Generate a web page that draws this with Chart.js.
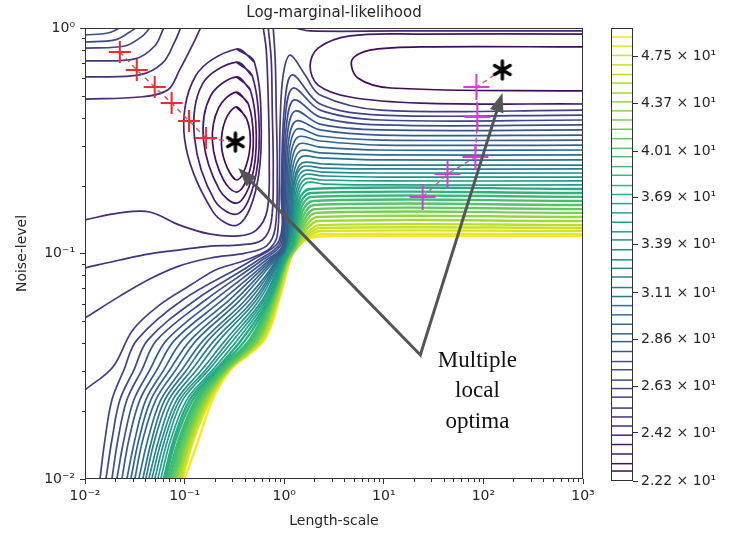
<!DOCTYPE html>
<html>
<head>
<meta charset="utf-8">
<script src="https://cdn.jsdelivr.net/npm/chart.js@4.4.0/dist/chart.umd.min.js"></script>
<style>
  html, body { margin: 0; padding: 0; background: #fff; }
  #wrap { position: relative; width: 732px; height: 542px; }
  #main { position: absolute; left: 0; top: 0; }
  #bar { position: absolute; left: 600px; top: 0; }
</style>
</head>
<body>
<div id="wrap">
  <canvas id="main" width="600" height="542"></canvas>
  <canvas id="bar" width="132" height="542"></canvas>
</div>
<script>
// contour levels of -LML (colour bar)
const levels = [22.2, 22.6, 22.9, 23.3, 23.7, 24.1, 24.5, 24.9, 25.3, 25.8, 26.2, 26.6, 27.1, 27.5, 28.0,
  28.5, 28.9, 29.4, 29.9, 30.4, 30.9, 31.4, 32.0, 32.5, 33.0, 33.6, 34.2, 34.7, 35.3, 35.9, 36.5, 37.1,
  37.7, 38.4, 39.0, 39.7, 40.3, 41.0, 41.7, 42.4, 43.1, 43.8, 44.5, 45.3, 46.0, 46.8, 47.6, 48.4, 49.2, 50.0];
const cbTicks = [22.2, 24.2, 26.3, 28.6, 31.1, 33.9, 36.9, 40.1, 43.7, 47.5];
const cbTickLabels = ['2.22 × 10¹', '2.42 × 10¹', '2.63 × 10¹', '2.86 × 10¹', '3.11 × 10¹',
  '3.39 × 10¹', '3.69 × 10¹', '4.01 × 10¹', '4.37 × 10¹', '4.75 × 10¹'];

const xTicks = [0.01, 0.1, 1, 10, 100, 1000];
const xTickLabels = ['10⁻²', '10⁻¹', '10⁰', '10¹', '10²', '10³'];
const yTicks = [0.01, 0.1, 1];
const yTickLabels = ['10⁻²', '10⁻¹', '10⁰'];

// contour lines, points are [log10 length-scale, log10 noise-level]
// closed rings round the left optimum
const ringLevels = [1, 2, 3, 4, 5];
const rings = [
  [[-0.48,-0.35],[-0.38,-0.40],[-0.34,-0.497],[-0.38,-0.608],[-0.47,-0.674],[-0.57,-0.621],[-0.63,-0.519],[-0.59,-0.408]],
  [[-0.48,-0.284],[-0.36,-0.337],[-0.31,-0.488],[-0.35,-0.639],[-0.47,-0.727],[-0.61,-0.674],[-0.72,-0.506],[-0.66,-0.355]],
  [[-0.48,-0.217],[-0.34,-0.275],[-0.28,-0.479],[-0.33,-0.674],[-0.47,-0.776],[-0.65,-0.718],[-0.81,-0.497],[-0.74,-0.302]],
  [[-0.48,-0.151],[-0.32,-0.213],[-0.25,-0.47],[-0.31,-0.701],[-0.47,-0.825],[-0.70,-0.763],[-0.90,-0.488],[-0.82,-0.248]],
  [[-0.48,-0.093],[-0.30,-0.151],[-0.23,-0.466],[-0.29,-0.727],[-0.47,-0.874],[-0.72,-0.812],[-1.00,-0.492],[-0.89,-0.213]]
];

// open lines: from the top edge down the wall and back to the left edge, plus the first line of the wall
const arcLevels = [6, 7, 8, 9];
const arcs = [
  [[-0.21,0],[-0.18,-0.098],[-0.16,-0.319],[-0.15,-0.585],[-0.17,-0.807],[-0.28,-0.896],[-0.46,-0.922],[-0.74,-0.914],
   [-1.05,-0.874],[-1.35,-0.816],[-1.65,-0.82],[-2,-0.851]],
  [[-0.16,0],[-0.13,-0.142],[-0.12,-0.364],[-0.11,-0.63],[-0.13,-0.86],[-0.22,-0.94],[-0.44,-0.962],[-0.74,-0.967],
   [-1.05,-0.984],[-1.35,-1.002],[-1.65,-1.029],[-2,-1.064]],
  [[-0.11,0],[-0.09,-0.142],[-0.08,-0.364],[-0.07,-0.63],[-0.09,-0.887],[-0.18,-0.967],[-0.39,-0.998],[-0.74,-1.02],
   [-1.05,-1.055],[-1.35,-1.113],[-1.65,-1.189],[-2,-1.286]],
  [[-2,-1.605],[-1.72,-1.503],[-1.52,-1.339],[-1.25,-1.228],[-0.94,-1.14],[-0.69,-1.073],[-0.44,-1.038],[-0.26,-1.007],
   [-0.14,-0.976],[-0.07,-0.922],[-0.05,-0.718],[-0.04,-0.408],[-0.01,-0.208],[0.06,-0.12],[0.21,-0.208],[0.36,-0.297],[0.97,-0.364],[3,-0.364]]
];

// lines from the left edge out through the top, and round the right optimum
const edgeLevels = [6, 7, 8, 10, 11, 12, 1, 3, 5];
const edgeLines = [
  [[-2,-0.315],[-1.45,-0.306],[-1.17,-0.275],[-1.05,-0.186],[-0.92,-0.075],[-0.84,0]],
  [[-2,-0.217],[-1.45,-0.208],[-1.22,-0.155],[-1.10,-0.062],[-1.04,0]],
  [[-2,-0.146],[-1.50,-0.137],[-1.30,-0.08],[-1.21,0]],
  [[-2,-0.089],[-1.60,-0.08],[-1.42,-0.035],[-1.35,0]],
  [[-2,-0.062],[-1.70,-0.053],[-1.55,-0.018],[-1.49,0]],
  [[-2,-0.031],[-1.77,-0.022],[-1.65,0]],
  [[3,-0.084],[1.37,-0.084],[0.86,-0.098],[0.68,-0.142],[0.74,-0.222],[1.07,-0.266],[3,-0.279]],
  [[3,-0.027],[1.37,-0.027],[0.66,-0.035],[0.34,-0.089],[0.26,-0.169],[0.34,-0.253],[0.66,-0.306],[1.37,-0.333],[3,-0.337]],
  [[0.11,0],[0.26,-0.013],[1.17,-0.013],[3,-0.013]]
];

// the steep wall: lower branch read at fixed noise levels, then the upper branch, then the flat level on the right
const cutLogN = [-2.0, -1.827, -1.65, -1.517, -1.384, -1.206, -1.029];
const wallLevels = [10, 11, 12, 13, 14, 15, 16, 17, 18, 19, 21, 22, 24, 25, 27, 28, 30, 31, 33, 34, 36, 37, 39, 41, 42, 44, 45, 46, 48, 49];
const wallLower = [
  [-1.85,-1.80,-1.73,-1.61,-1.48,-1.02,-0.32],
  [-1.79,-1.73,-1.65,-1.51,-1.37,-0.89,-0.26],
  [-1.73,-1.67,-1.58,-1.43,-1.28,-0.79,-0.22],
  [-1.68,-1.61,-1.51,-1.35,-1.18,-0.70,-0.18],
  [-1.63,-1.56,-1.45,-1.28,-1.10,-0.62,-0.15],
  [-1.58,-1.50,-1.39,-1.21,-1.02,-0.55,-0.13],
  [-1.54,-1.46,-1.34,-1.15,-0.94,-0.49,-0.11],
  [-1.50,-1.42,-1.29,-1.09,-0.88,-0.44,-0.09],
  [-1.46,-1.37,-1.24,-1.03,-0.81,-0.39,-0.08],
  [-1.42,-1.33,-1.20,-0.98,-0.76,-0.35,-0.07],
  [-1.39,-1.30,-1.16,-0.93,-0.70,-0.31,-0.06],
  [-1.36,-1.26,-1.12,-0.88,-0.65,-0.28,-0.05],
  [-1.33,-1.23,-1.08,-0.83,-0.59,-0.25,-0.04],
  [-1.30,-1.20,-1.05,-0.79,-0.55,-0.22,-0.03],
  [-1.27,-1.17,-1.02,-0.76,-0.51,-0.20,-0.02],
  [-1.24,-1.14,-0.98,-0.72,-0.47,-0.18,-0.01],
  [-1.21,-1.11,-0.95,-0.69,-0.43,-0.16,0.00],
  [-1.19,-1.09,-0.92,-0.67,-0.39,-0.15,0.005],
  [-1.17,-1.06,-0.89,-0.65,-0.35,-0.14,0.01],
  [-1.15,-1.04,-0.87,-0.63,-0.33,-0.13,0.015],
  [-1.13,-1.02,-0.85,-0.61,-0.31,-0.12,0.02],
  [-1.11,-1.00,-0.83,-0.60,-0.29,-0.11,0.025],
  [-1.09,-0.98,-0.81,-0.59,-0.27,-0.10,0.03],
  [-1.08,-0.97,-0.79,-0.58,-0.26,-0.09,0.035],
  [-1.06,-0.95,-0.78,-0.57,-0.25,-0.085,0.04],
  [-1.05,-0.94,-0.77,-0.57,-0.24,-0.08,0.045],
  [-1.04,-0.93,-0.76,-0.56,-0.23,-0.07,0.05],
  [-1.03,-0.92,-0.75,-0.56,-0.22,-0.065,0.053],
  [-1.02,-0.91,-0.74,-0.55,-0.21,-0.06,0.056],
  [-1.00,-0.86,-0.72,-0.54,-0.20,-0.05,0.06]
];
const wallUpper = [
  [[-0.05,-0.94],[-0.03,-0.718],[0,-0.364],[0.08,-0.208],[0.36,-0.337],[0.97,-0.386]],
  [[-0.04,-0.949],[-0.02,-0.741],[0.01,-0.399],[0.09,-0.266],[0.36,-0.364],[0.97,-0.408]],
  [[-0.03,-0.958],[-0.01,-0.763],[0.02,-0.443],[0.10,-0.319],[0.36,-0.395],[0.97,-0.43]],
  [[-0.02,-0.967],[0,-0.785],[0.03,-0.479],[0.11,-0.368],[0.36,-0.426],[0.97,-0.452]],
  [[-0.01,-0.971],[0.01,-0.807],[0.04,-0.514],[0.12,-0.412],[0.36,-0.452],[0.97,-0.475]],
  [[-0.005,-0.976],[0.02,-0.825],[0.05,-0.545],[0.13,-0.448],[0.36,-0.479],[0.97,-0.497]],
  [[0,-0.98],[0.03,-0.843],[0.06,-0.576],[0.14,-0.483],[0.36,-0.501],[0.97,-0.519]],
  [[0.01,-0.984],[0.04,-0.856],[0.07,-0.603],[0.15,-0.514],[0.36,-0.528],[0.97,-0.541]],
  [[0.04,-0.869],[0.08,-0.63],[0.16,-0.545],[0.36,-0.554],[0.97,-0.563]],
  [[0.05,-0.882],[0.09,-0.656],[0.17,-0.572],[0.36,-0.576],[0.97,-0.585]],
  [[0.055,-0.891],[0.10,-0.674],[0.18,-0.599],[0.38,-0.603],[0.97,-0.608]],
  [[0.06,-0.90],[0.10,-0.692],[0.18,-0.616],[0.38,-0.621],[0.97,-0.625]],
  [[0.065,-0.909],[0.11,-0.705],[0.19,-0.634],[0.38,-0.639],[0.97,-0.643]],
  [[0.07,-0.918],[0.12,-0.723],[0.20,-0.652],[0.38,-0.656],[0.97,-0.661]],
  [[0.075,-0.927],[0.13,-0.736],[0.21,-0.67],[0.38,-0.674],[0.97,-0.678]],
  [[0.08,-0.931],[0.14,-0.749],[0.22,-0.687],[0.40,-0.692],[0.97,-0.696]],
  [[0.09,-0.945],[0.15,-0.763],[0.26,-0.714]],
  [[0.095,-0.949],[0.16,-0.78],[0.27,-0.732]],
  [[0.10,-0.953],[0.17,-0.798],[0.28,-0.749]],
  [[0.105,-0.958],[0.18,-0.816],[0.29,-0.767]],
  [[0.11,-0.962],[0.19,-0.834],[0.30,-0.785]],
  [[0.115,-0.965],[0.20,-0.851],[0.31,-0.803]],
  [[0.12,-0.967],[0.21,-0.865],[0.32,-0.82]],
  [[0.124,-0.969],[0.22,-0.878],[0.33,-0.838]],
  [[0.127,-0.971],[0.23,-0.891],[0.34,-0.856]],
  [[0.13,-0.973],[0.24,-0.905],[0.35,-0.874]],
  [[0.133,-0.973],[0.25,-0.914],[0.36,-0.887]],
  [[0.136,-0.971],[0.26,-0.92],[0.37,-0.90]],
  [[0.139,-0.967],[0.27,-0.927],[0.38,-0.914]],
  [[0.14,-0.953],[0.28,-0.929],[0.56,-0.922]]
];
const wallRight = [-0.386,-0.408,-0.43,-0.452,-0.475,-0.497,-0.519,-0.541,-0.563,-0.585,-0.608,-0.625,-0.643,-0.661,
  -0.678,-0.696,-0.714,-0.732,-0.749,-0.767,-0.785,-0.803,-0.82,-0.838,-0.856,-0.874,-0.887,-0.90,-0.914,-0.922];

// optimiser runs and the two optima
const redPath = [[-1.65,-0.106],[-1.48,-0.186],[-1.30,-0.262],[-1.13,-0.333],[-0.955,-0.412],[-0.784,-0.488]];
const leftOptimum = [-0.49,-0.506];
const magentaPath = [[1.39,-0.749],[1.64,-0.647],[1.92,-0.572],[1.94,-0.395],[1.93,-0.262]];
const rightOptimum = [2.19,-0.186];

// annotation
const arrowFrom = [1.367,-1.45];
const arrowTips = [[-0.462,-0.621],[2.191,-0.288]];
const noteLines = ['Multiple', 'local', 'optima'];
const noteAt = [1.94,-1.503];

const VIRIDIS = ['#440154','#482475','#414487','#355f8d','#2a788e','#21918c','#22a884','#44bf70','#7ad151','#bddf26','#fde725'];
function viridis(t) {
  t = Math.max(0, Math.min(1, t));
  const s = t * 10, i = Math.min(9, Math.floor(s)), f = s - i;
  const a = VIRIDIS[i], b = VIRIDIS[i + 1];
  const c = k => Math.round(parseInt(a.substr(k, 2), 16) * (1 - f) + parseInt(b.substr(k, 2), 16) * f);
  return `rgb(${c(1)},${c(3)},${c(5)})`;
}
const lmin = levels[0], lmax = levels[levels.length - 1];
const levelColor = v => viridis(Math.log(v / lmin) / Math.log(lmax / lmin));

const pt = ([a, b]) => ({ x: 10 ** a, y: 10 ** b });

const contourSets = [];
function addContour(points, idx) {
  contourSets.push({
    data: points.map(pt), showLine: true, pointRadius: 0,
    borderWidth: idx >= 30 ? 2.4 : 1.7,
    borderColor: levelColor(levels[idx]), tension: 0.35, clip: 0, order: 2
  });
}
rings.forEach((r, i) => addContour(r.concat([r[0], r[1]]), ringLevels[i]));
arcs.forEach((a, i) => addContour(a, arcLevels[i]));
edgeLines.forEach((e, i) => addContour(e, edgeLevels[i]));
wallLower.forEach((xs, j) => {
  const pts = cutLogN.map((n, i) => [xs[i], n]).concat(wallUpper[j], [[3, wallRight[j]]]);
  addContour(pts, wallLevels[j]);
});

function asterisk() {
  const c = document.createElement('canvas');
  c.width = c.height = 26;
  const g = c.getContext('2d');
  g.translate(13, 13);
  g.strokeStyle = '#000';
  g.lineWidth = 3.4;
  g.lineCap = 'round';
  g.beginPath();
  for (let k = 0; k < 3; k++) {
    const a = Math.PI / 2 + k * Math.PI / 3;
    g.moveTo(Math.cos(a) * 9, Math.sin(a) * 9);
    g.lineTo(-Math.cos(a) * 9, -Math.sin(a) * 9);
  }
  g.stroke();
  return c;
}

const markerSets = [
  { data: [leftOptimum, rightOptimum].map(pt), pointStyle: asterisk(), pointRadius: 10, order: 0 },
  { data: redPath.map(pt), pointStyle: 'cross', pointRadius: 11, pointBorderColor: '#f42a2a', pointBorderWidth: 2, order: 0 },
  { data: magentaPath.map(pt), pointStyle: 'cross', pointRadius: 13, pointBorderColor: '#d93ad9', pointBorderWidth: 2, order: 0 },
  { data: redPath.concat([leftOptimum]).map(pt), showLine: true, pointRadius: 0, borderColor: 'rgba(185,80,80,0.9)',
    borderWidth: 1.5, borderDash: [5, 4], order: 1 },
  { data: magentaPath.concat([rightOptimum]).map(pt), showLine: true, pointRadius: 0, borderColor: 'rgba(200,80,130,0.9)',
    borderWidth: 1.5, borderDash: [5, 4], order: 1 }
];

const textColor = '#262626';
const tickFont = { family: 'DejaVu Sans', size: 14 };

// frame and minor ticks
const frame = {
  id: 'frame',
  afterDraw(chart) {
    const { ctx, chartArea: a, scales } = chart;
    ctx.save();
    ctx.strokeStyle = '#333';
    ctx.lineWidth = 1;
    ctx.strokeRect(Math.round(a.left) + 0.5, Math.round(a.top) + 0.5, Math.round(a.width) - 1, Math.round(a.height) - 1);
    if (scales.x && scales.x.type === 'logarithmic') {
      ctx.beginPath();
      xTicks.slice(0, -1).forEach(d => {
        for (let k = 2; k < 10; k++) {
          const px = Math.round(scales.x.getPixelForValue(d * k)) + 0.5;
          ctx.moveTo(px, a.bottom); ctx.lineTo(px, a.bottom + 3);
        }
      });
      yTicks.slice(0, -1).forEach(d => {
        for (let k = 2; k < 10; k++) {
          const py = Math.round(scales.y.getPixelForValue(d * k)) + 0.5;
          ctx.moveTo(a.left, py); ctx.lineTo(a.left - 3, py);
        }
      });
      ctx.stroke();
    }
    ctx.restore();
  }
};

const notes = {
  id: 'notes',
  afterDatasetsDraw(chart) {
    const { ctx, scales: { x, y } } = chart;
    const px = p => [x.getPixelForValue(10 ** p[0]), y.getPixelForValue(10 ** p[1])];
    const o = px(arrowFrom);
    ctx.save();
    ctx.strokeStyle = '#555';
    ctx.fillStyle = '#555';
    ctx.lineWidth = 3;
    ctx.lineJoin = 'miter';
    const heads = arrowTips.map(t => {
      const p = px(t);
      const ang = Math.atan2(p[1] - o[1], p[0] - o[0]);
      return { p, ang, base: [p[0] - 19 * Math.cos(ang), p[1] - 19 * Math.sin(ang)] };
    });
    ctx.beginPath();
    ctx.moveTo(heads[0].base[0], heads[0].base[1]);
    ctx.lineTo(o[0], o[1]);
    ctx.lineTo(heads[1].base[0], heads[1].base[1]);
    ctx.stroke();
    heads.forEach(h => {
      const s = Math.sin(h.ang), c = Math.cos(h.ang);
      ctx.beginPath();
      ctx.moveTo(h.p[0], h.p[1]);
      ctx.lineTo(h.base[0] + 7 * s, h.base[1] - 7 * c);
      ctx.lineTo(h.base[0] - 7 * s, h.base[1] + 7 * c);
      ctx.closePath();
      ctx.fill();
    });
    const t = px(noteAt);
    ctx.fillStyle = '#111';
    ctx.font = '23px "Liberation Serif"';
    ctx.textAlign = 'center';
    ctx.textBaseline = 'alphabetic';
    noteLines.forEach((s, i) => ctx.fillText(s, t[0], t[1] + i * 30.5));
    ctx.restore();
  }
};

new Chart(document.getElementById('main'), {
  type: 'scatter',
  data: { datasets: markerSets.concat(contourSets) },
  options: {
    responsive: false, animation: false, devicePixelRatio: 1, events: [],
    layout: { padding: { left: 0, right: 17, top: 0, bottom: 0 } },
    plugins: {
      legend: { display: false }, tooltip: { enabled: false },
      title: { display: true, text: 'Log-marginal-likelihood', fullSize: false, color: textColor,
        font: { family: 'DejaVu Sans', size: 15, weight: 'normal' }, padding: { top: 4, bottom: 6 } }
    },
    scales: {
      x: {
        type: 'logarithmic', min: 0.01, max: 1000,
        afterBuildTicks: s => { s.ticks = xTicks.map(v => ({ value: v })); },
        afterFit: s => { s.height = 63; },
        ticks: { callback: (v, i) => xTickLabels[i], font: tickFont, color: textColor, padding: 4, maxRotation: 0, autoSkip: false },
        grid: { drawOnChartArea: false, tickLength: 5, tickColor: '#333' },
        border: { display: false },
        title: { display: true, text: 'Length-scale', font: tickFont, color: textColor, padding: { top: 0, bottom: 12 } }
      },
      y: {
        type: 'logarithmic', min: 0.01, max: 1,
        afterBuildTicks: s => { s.ticks = yTicks.map(v => ({ value: v })); },
        afterFit: s => { s.width = 85; },
        ticks: { callback: (v, i) => yTickLabels[i], font: tickFont, color: textColor, padding: 5, autoSkip: false },
        grid: { drawOnChartArea: false, tickLength: 5, tickColor: '#333' },
        border: { display: false },
        title: { display: true, text: 'Noise-level', font: tickFont, color: textColor, padding: { top: 14, bottom: 0 } }
      }
    }
  },
  plugins: [frame, notes]
});

// colour bar
new Chart(document.getElementById('bar'), {
  type: 'scatter',
  data: {
    datasets: levels.map(v => ({
      data: [{ x: 0, y: v }, { x: 1, y: v }], showLine: true, pointRadius: 0,
      borderColor: levelColor(v), borderWidth: 1.5
    }))
  },
  options: {
    responsive: false, animation: false, devicePixelRatio: 1, events: [],
    layout: { padding: { left: 11, right: 0, top: 28, bottom: 61 } },
    plugins: { legend: { display: false }, tooltip: { enabled: false } },
    scales: {
      x: { type: 'linear', min: 0, max: 1, display: false },
      y: {
        type: 'logarithmic', position: 'right', min: 22.2, max: 50,
        afterBuildTicks: s => { s.ticks = cbTicks.map(v => ({ value: v })); },
        afterFit: s => { s.width = 99; },
        ticks: { callback: (v, i) => cbTickLabels[i], font: tickFont, color: textColor, padding: 3, autoSkip: false },
        grid: { drawOnChartArea: false, tickLength: 5, tickColor: '#333' },
        border: { display: false }
      }
    }
  },
  plugins: [frame]
});
</script>
</body>
</html>
